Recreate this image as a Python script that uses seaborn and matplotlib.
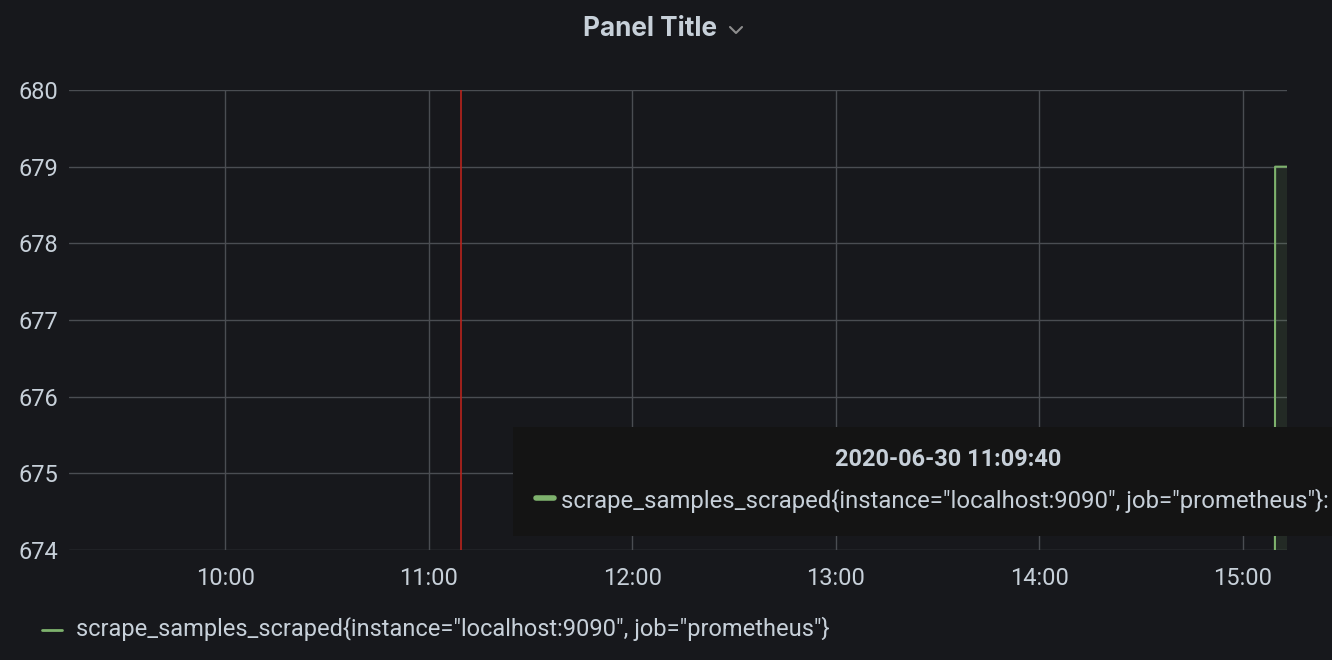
import matplotlib
matplotlib.use("Agg")
import matplotlib.pyplot as plt
import matplotlib.dates as mdates
from matplotlib.patches import Rectangle
from matplotlib.lines import Line2D
import seaborn as sns
import pandas as pd

# ---- data ----
times = ["2020-06-30 15:09:25", "2020-06-30 15:09:30", "2020-06-30 15:13:30"]
values = [672, 679, 679]
series_name = 'scrape_samples_scraped{instance="localhost:9090", job="prometheus"}'
annotation_time = "2020-06-30 11:09:40"
x_range = ["2020-06-30 09:14:00", "2020-06-30 15:13:00"]
y_range = [674, 680]
y_ticks = [674, 675, 676, 677, 678, 679, 680]
x_ticks = ["2020-06-30 10:00", "2020-06-30 11:00", "2020-06-30 12:00",
           "2020-06-30 13:00", "2020-06-30 14:00", "2020-06-30 15:00"]
title = "Panel Title"
tooltip_title = "2020-06-30 11:09:40"

df = pd.DataFrame({"time": pd.to_datetime(times), "value": values, "series": series_name})

BG = "#17181c"
GRID = "#4a4d52"
TXT = "#c7d0d9"
GREEN = "#7eb26d"
RED = "#b9241c"

sns.set_theme(style="dark")
plt.rcParams["font.family"] = ["Roboto", "DejaVu Sans"]

fig = plt.figure(figsize=(13.32, 6.6), dpi=100, facecolor=BG)
ax = fig.add_axes([69/1332, 1-550/660, (1287-69)/1332, (550-90)/660])
ax.set_facecolor(BG)

sns.lineplot(data=df, x="time", y="value", ax=ax, color=GREEN, linewidth=1.5,
             legend=False, zorder=3)
ax.fill_between(df["time"], df["value"], y_range[0] - 10, color=GREEN, alpha=0.12,
                linewidth=0, zorder=2)
ax.axvline(pd.to_datetime(annotation_time), color=RED, linewidth=1.2, zorder=2)

ax.set_xlim(pd.to_datetime(x_range[0]), pd.to_datetime(x_range[1]))
ax.set_ylim(*y_range)
ax.set_yticks(y_ticks)
ax.set_xticks(pd.to_datetime(x_ticks))
ax.xaxis.set_major_formatter(mdates.DateFormatter("%H:%M"))
ax.grid(True, color=GRID, linewidth=1.0)
ax.tick_params(axis="both", colors=TXT, labelsize=17, length=0)
ax.tick_params(axis="y", pad=7.5)
ax.tick_params(axis="x", pad=12.5)
ax.set_xlabel("")
ax.set_ylabel("")
for s in ax.spines.values():
    s.set_visible(False)

# title
fig.text(650/1332, 1-29/660, title, ha="center", va="center", color=TXT,
         fontsize=18.8, fontweight="bold", family=["Inter", "DejaVu Sans"])
fig.add_artist(Line2D([730/1332, 736/1332, 742/1332],
                      [1-27/660, 1-33/660, 1-27/660], color="#8e8e8e",
                      linewidth=1.5, transform=fig.transFigure))

# tooltip box
fig.add_artist(Rectangle((513/1332, 1-536/660), (1332-513)/1332, (536-427)/660,
                         transform=fig.transFigure, facecolor="#141414",
                         edgecolor="none", zorder=10))
fig.text(948/1332, 1-460/660, tooltip_title, ha="center", va="center", color=TXT,
         fontsize=16.9, fontweight="bold", zorder=11)
fig.add_artist(Line2D([536/1332, 554/1332], [1-498/660, 1-498/660], color=GREEN,
                      linewidth=4, transform=fig.transFigure, zorder=11))
fig.text(561/1332, 1-501/660, series_name + ":", ha="left", va="center", color=TXT,
         fontsize=17.2, zorder=11)

# bottom legend
fig.add_artist(Line2D([42/1332, 62/1332], [1-630/660, 1-630/660], color=GREEN,
                      linewidth=2, transform=fig.transFigure))
fig.text(76/1332, 1-629/660, series_name, ha="left", va="center", color=TXT,
         fontsize=17)

fig.savefig("out.png", dpi=100, facecolor=BG)
